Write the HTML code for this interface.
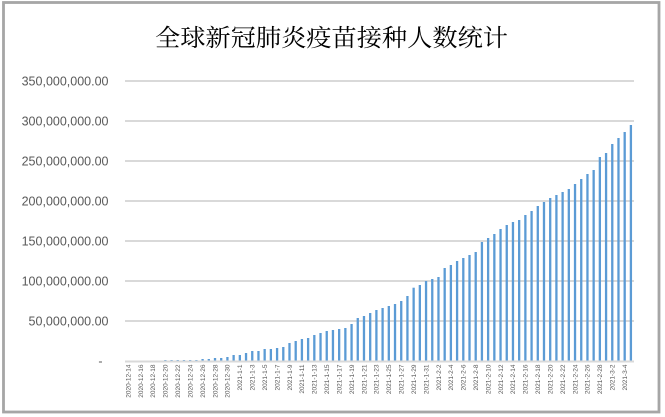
<!DOCTYPE html>
<html><head><meta charset="utf-8"><style>
html,body{margin:0;padding:0;background:#fff;}
svg{display:block;}
</style></head><body>
<svg width="665" height="417" viewBox="0 0 665 417" xmlns="http://www.w3.org/2000/svg">
<rect x="0" y="0" width="665" height="417" fill="#fff"/>
<rect x="3.5" y="2.5" width="655.5" height="409.5" fill="#fff" stroke="#a6a6a6" stroke-width="2.8"/>
<text x="331.5" y="46" text-anchor="middle" font-family="'Noto Serif CJK SC','Liberation Serif',serif" font-size="24" fill="#000" textLength="353" lengthAdjust="spacingAndGlyphs">全球新冠肺炎疫苗接种人数统计</text>
<g stroke="#d9d9d9" stroke-width="2">
<line x1="125" y1="81" x2="634" y2="81"/>
<line x1="125" y1="121" x2="634" y2="121"/>
<line x1="125" y1="161" x2="634" y2="161"/>
<line x1="125" y1="201" x2="634" y2="201"/>
<line x1="125" y1="241" x2="634" y2="241"/>
<line x1="125" y1="281" x2="634" y2="281"/>
<line x1="125" y1="321" x2="634" y2="321"/>
</g>
<g font-family="'Liberation Sans',sans-serif" font-size="12.5" fill="#595959" text-anchor="end">
<text x="108.5" y="85.5">350,000,000.00</text>
<text x="108.5" y="125.5">300,000,000.00</text>
<text x="108.5" y="165.5">250,000,000.00</text>
<text x="108.5" y="205.5">200,000,000.00</text>
<text x="108.5" y="245.5">150,000,000.00</text>
<text x="108.5" y="285.5">100,000,000.00</text>
<text x="108.5" y="325.5">50,000,000.00</text>
<text x="102.5" y="365.5">-</text>
</g>
<g id="bars" fill="#5b9bd5"></g>
<line x1="125" y1="361.5" x2="634" y2="361.5" stroke="#d9d9d9" stroke-width="2"/>
<g id="xl" font-family="'Liberation Sans',sans-serif" font-size="6.5" fill="#595959" text-anchor="end"></g>
<script>
(function(){
var tops={6:360,7:360,8:360,9:360,10:360,11:360,12:359,13:359,14:358,15:358,16:357,17:355,18:355,19:353,20:351,21:351,22:349,23:349,24:348,25:347,26:343,27:341,28:339,29:338,30:335,31:333,32:331,33:330,34:329,35:328,36:324,37:318,38:316,39:313,40:310,41:308,42:306,43:304,44:301,45:296,46:287.7,47:285,48:281,49:279,50:277,51:268,52:265,53:261,54:258,55:255,56:252,57:242,58:238,59:234,60:229,61:225,62:222,63:220,64:215,65:211,66:206,67:202,68:198,69:195,70:192,71:189,72:184,73:179,74:174,75:170,76:157,77:153,78:144,79:138,80:132,81:125};
var ns="http://www.w3.org/2000/svg";
var g=document.getElementById("bars");
var step=509/82, bw=2.3, base=361.5;
for(var i=0;i<82;i++){
  var cx=125+(i+0.5)*step;
  if(tops[i]!==undefined){
    var r=document.createElementNS(ns,"rect");
    r.setAttribute("x",(cx-bw/2).toFixed(2));
    r.setAttribute("y",tops[i]);
    r.setAttribute("width",bw);
    r.setAttribute("height",(base-tops[i]).toFixed(2));
    g.appendChild(r);
  }
}
var xl=document.getElementById("xl");
function lab(i){
  if(i<18) return "2020-12-"+(14+i);
  if(i<49) return "2021-1-"+(i-17);
  if(i<77) return "2021-2-"+(i-48);
  return "2021-3-"+(i-76);
}
for(var i=0;i<82;i+=2){
  var cx=125+(i+0.5)*step;
  var t=document.createElementNS(ns,"text");
  t.setAttribute("transform","translate("+cx.toFixed(2)+",364.5) rotate(-90)");
  t.setAttribute("dy","0.35em");
  t.textContent=lab(i);
  xl.appendChild(t);
}
})();
</script>
</svg>
</body></html>
